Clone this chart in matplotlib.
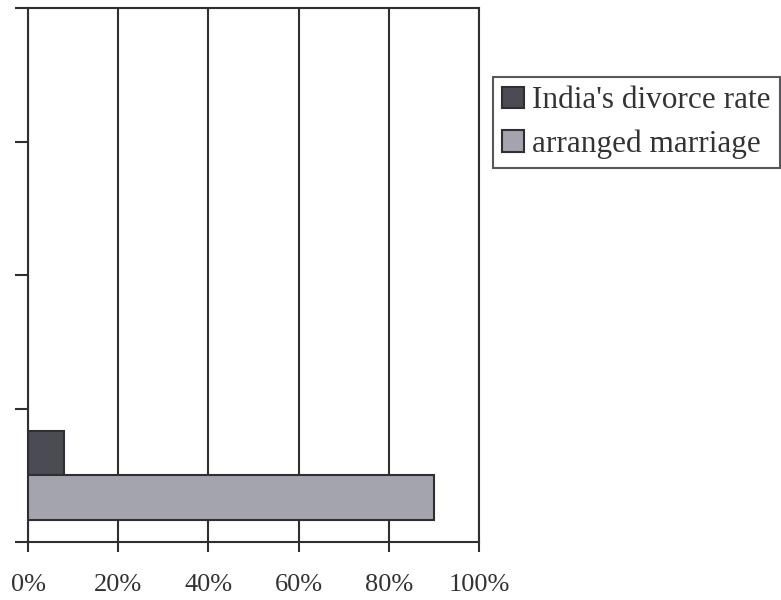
import matplotlib
matplotlib.use("Agg")
import matplotlib.pyplot as plt
import numpy as np

plt.rcParams['font.family'] = ['Liberation Serif', 'DejaVu Serif']

categories = ['', '', '', '']
divorce_rate = [8, np.nan, np.nan, np.nan]
arranged_marriage = [90, np.nan, np.nan, np.nan]
series_labels = ["India's divorce rate", "arranged marriage"]
x_ticks = [0, 20, 40, 60, 80, 100]
x_tick_labels = ['0%', '20%', '40%', '60%', '80%', '100%']

fig = plt.figure(figsize=(7.81, 6.0), dpi=100)
ax = fig.add_axes([28/781, 58/600, (479-28)/781, (542-8)/600])

y = np.arange(len(categories))
h = 0.335
edge = '#2e2e33'
ax.barh(y + h/2, divorce_rate, height=h, color='#4b4b53', edgecolor=edge,
        linewidth=1.5, label=series_labels[0], zorder=3)
ax.barh(y - h/2, arranged_marriage, height=h, color='#a3a4ad', edgecolor=edge,
        linewidth=1.5, label=series_labels[1], zorder=3)

ax.set_xlim(0, 100)
ax.set_ylim(-0.5, len(categories) - 0.5)
ax.set_xticks(x_ticks)
ax.set_xticklabels(x_tick_labels, fontsize=19, color='#333333')
ax.set_yticks(np.arange(len(categories) + 1) - 0.5)
ax.set_yticklabels([])
ax.tick_params(axis='x', direction='out', length=7, width=1.5, color=edge, pad=16)
ax.tick_params(axis='y', direction='out', length=9.5, width=1.5, color=edge)
ax.xaxis.grid(True, color=edge, linewidth=1.5, zorder=0)
ax.set_axisbelow(True)
for s in ax.spines.values():
    s.set_linewidth(1.5)
    s.set_color(edge)

leg = fig.legend(loc='upper left', bbox_to_anchor=(493/781, 1 - 77/600),
                 fontsize=22.5, frameon=True, fancybox=False, shadow=False,
                 handlelength=0.7, handleheight=0.7, handletextpad=0.25,
                 borderpad=0.3, labelspacing=0.45, borderaxespad=0)
leg.get_frame().set_edgecolor(edge)
leg.get_frame().set_linewidth(1.5)
for t in leg.get_texts():
    t.set_color('#333333')

fig.savefig('out.png', dpi=100)
